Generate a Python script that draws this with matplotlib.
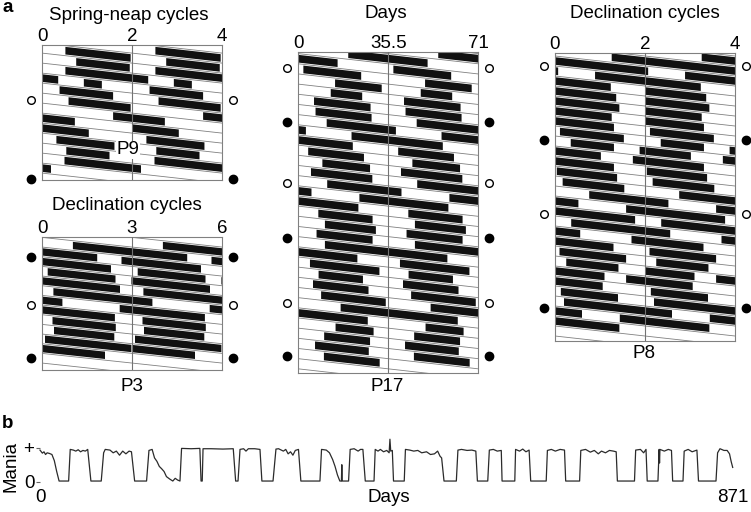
import numpy as np
import matplotlib
matplotlib.use("Agg")
import matplotlib.pyplot as plt
from matplotlib.patches import Polygon

plt.rcParams["font.family"] = ["Liberation Sans", "DejaVu Sans"]

# --- panel a: active (manic) intervals, in cycle/day units along the record ---
p9_intervals = [(0.52, 1.97), (2.76, 3.95), (4.52, 6.36), (6.93, 7.33), (8.39, 9.58),
                (10.59, 11.97), (13.58, 14.73), (16.0, 17.04), (18.32, 19.61),
                (20.54, 21.5), (22.5, 24.2)]
p3_intervals = [(1.03, 4.84), (5.65, 8.3), (9.19, 11.45), (11.98, 14.6), (15.38, 18.68),
                (20.59, 23.43), (24.35, 26.46), (27.4, 29.41), (30.1, 32.98), (33.03, 35.1)]
p17_intervals = [(19.7, 51.0), (73.0, 95.8), (121.0, 139.4), (154.8, 167.2), (183.7, 206.0),
                 (219.8, 241.9), (259.7, 287.0), (305.0, 341.0), (358.9, 380.9),
                 (400.0, 418.8), (431.0, 455.2), (472.9, 502.2), (521.1, 556.2),
                 (575.9, 597.3), (614.0, 634.1), (646.2, 668.3), (685.0, 733.3),
                 (750.1, 777.5), (789.0, 806.5), (822.3, 844.2), (861.0, 886.5),
                 (904.2, 950.4), (973.2, 988.2), (1004.2, 1022.3), (1036.1, 1057.3),
                 (1075.1, 1097.1)]
p8_intervals = [(1.26, 4.07), (4.89, 7.24), (8.0, 9.36), (10.0, 11.43), (12.0, 13.26),
                (14.0, 15.31), (16.11, 17.53), (18.35, 19.31), (19.88, 21.02),
                (21.73, 23.31), (24.04, 25.38), (26.17, 27.54), (28.76, 30.52),
                (31.58, 33.78), (34.36, 36.56), (37.7, 39.3), (40.1, 41.58),
                (42.25, 43.41), (44.0, 45.1), (45.58, 47.06), (48.13, 49.4),
                (50.2, 52.6), (53.44, 55.43)]

# open / filled circle markers (time along record)
p9_open, p9_filled = [10.4], [26.2]
p3_open, p3_filled = [19.5], [4.5, 36.0]
p17_open, p17_filled = [69, 468, 887], [255, 660, 1075]
p8_open, p8_filled = [3.06, 32.6], [17.7, 51.4]

p9_ticks = ["0", "2", "4"]
p3_ticks = ["0", "3", "6"]
p17_ticks = ["0", "35.5", "71"]
p8_ticks = ["0", "2", "4"]

# --- panel b: mania rating over days ---
mania_day = [0, 3, 5, 7, 9, 12, 15, 18, 21, 24, 36, 38, 42, 45, 48, 51, 54, 57, 60, 62, 64,
             77, 80, 82, 88, 92, 96, 100, 104, 108, 112, 115, 119, 134, 137, 141, 144, 147,
             150, 153, 156, 159, 163, 167, 170, 173, 176, 178, 190, 201, 202.5, 204, 205,
             215, 230, 243, 246, 249, 251.5, 256, 259, 262, 270, 276.6, 279, 293, 296.7,
             300, 306, 309, 312, 315, 318, 321, 325, 328, 352, 354, 360, 364, 368, 371, 374,
             377, 379, 379.5, 380, 388, 390, 395, 400, 403, 406, 409, 420, 421.5, 425, 428,
             432, 436, 439, 440, 441, 443, 444.5, 458, 459.5, 465, 470, 475, 480, 486, 491,
             496, 500, 503, 505, 508, 523.5, 525.5, 530, 537, 543, 548, 550, 563, 565, 570,
             575, 580, 581, 597, 598, 603, 607, 611, 615, 617, 636.5, 638, 643, 648, 654,
             659.5, 661, 678.5, 680, 686, 692, 697, 702, 706, 711, 716, 721, 724.5, 726,
             747.5, 749, 755, 759, 762, 763.5, 777, 778.5, 779, 779.5, 785, 790, 794, 795.5,
             808.5, 810, 815, 820, 826, 828, 850, 852, 855, 860, 864, 867, 869, 871]
mania_level = [0.93, 0.84, 0.88, 0.8, 0.85, 0.83, 0.8, 0.62, 0.3, 0.02, 0.02, 0.95, 0.93,
               0.9, 0.94, 0.88, 0.92, 0.9, 0.95, 0.5, 0.02, 0.02, 0.85, 0.95, 0.93, 0.85,
               0.9, 0.78, 0.9, 0.82, 0.9, 0.88, 0.02, 0.02, 0.92, 0.95, 0.7, 0.6, 0.45,
               0.38, 0.3, 0.15, 0.08, 0.02, 0.1, 0.05, 0.02, 0.98, 0.97, 0.98, 0.02, 0.02,
               0.97, 0.97, 0.96, 0.97, 0.02, 0.02, 0.95, 0.97, 0.9, 0.97, 0.97, 0.95, 0.02,
               0.02, 0.96, 0.97, 0.9, 0.95, 0.82, 0.88, 0.78, 0.92, 0.95, 0.02, 0.02, 0.95,
               0.93, 0.85, 0.65, 0.45, 0.2, 0.02, 0.02, 0.5, 0.02, 0.02, 0.95, 0.97, 0.9,
               0.95, 0.95, 0.02, 0.02, 0.95, 0.9, 0.95, 0.88, 0.92, 0.85, 1.25, 0.9, 0.92,
               0.02, 0.02, 0.95, 0.93, 0.9, 0.92, 0.85, 0.88, 0.8, 0.82, 0.9, 0.75, 0.7,
               0.02, 0.02, 0.93, 0.95, 0.92, 0.93, 0.9, 0.02, 0.02, 0.93, 0.95, 0.9, 0.92,
               0.02, 0.02, 0.95, 0.9, 0.96, 0.88, 0.93, 0.02, 0.02, 0.92, 0.95, 0.9, 0.95,
               0.93, 0.02, 0.02, 0.92, 0.95, 0.87, 0.92, 0.82, 0.9, 0.85, 0.92, 0.9, 0.88,
               0.02, 0.02, 0.93, 0.95, 0.85, 0.95, 0.02, 0.02, 0.95, 0.55, 0.95, 0.9, 0.95,
               0.92, 0.02, 0.02, 0.9, 0.95, 0.88, 0.93, 0.02, 0.02, 0.85, 0.97, 0.92, 0.92,
               0.82, 0.6, 0.42]

W, H = 751, 512
fig = plt.figure(figsize=(W / 100, H / 100), dpi=100)
FS = 13.5


def box_axes(x0, y0, x1, y1):
    return fig.add_axes([x0 / W, 1 - y1 / H, (x1 - x0) / W, (y1 - y0) / H])


def ftext(px, py, s, **kw):
    fig.text(px / W, 1 - py / H, s, ha="center", va="center", fontsize=FS, **kw)


def actogram(ax, intervals, P, vlim, ticks, opens, fills, bar_h=0.76):
    # each guide line k runs from T = kP to T = (k+2)P and drops one row per half width
    kmin = int(np.floor(vlim[0])) - 3
    kmax = int(np.ceil(vlim[1])) + 1
    xs = np.array([0, 2 * P])
    for k in range(kmin, kmax + 1):
        ax.plot(xs, k + xs / P + 0.5, color="0.5", lw=0.6, zorder=1)
        for a, b in intervals:
            x0 = max(a - k * P, 0)
            x1 = min(b - k * P, 2 * P)
            if x1 <= x0:
                continue
            y0 = k + x0 / P
            y1 = k + x1 / P
            poly = [(x0, y0 - bar_h / 2), (x1, y1 - bar_h / 2),
                    (x1, y1 + bar_h / 2), (x0, y0 + bar_h / 2)]
            ax.add_patch(Polygon(poly, closed=True, fc="#111111", ec="none", zorder=2))
    ax.axvline(P, color="0.45", lw=0.8, zorder=3)
    ax.set_xlim(0, 2 * P)
    ax.set_ylim(vlim[1], vlim[0])
    ax.set_yticks([])
    ax.xaxis.tick_top()
    ax.set_xticks([0, P, 2 * P], ticks, fontsize=FS)
    ax.tick_params(axis="x", length=0, pad=0)
    for sp in ax.spines.values():
        sp.set_color("0.5")
        sp.set_linewidth(0.8)
    tr = ax.get_yaxis_transform()
    off = 11 / 180
    for side in (-off, 1 + off):
        ax.plot([side] * len(opens), np.array(opens) / P, "o", ms=5.5, mfc="white",
                mec="black", mew=1.0, transform=tr, clip_on=False)
        ax.plot([side] * len(fills), np.array(fills) / P, "o", ms=6, mfc="black",
                mec="black", transform=tr, clip_on=False)


ax9 = box_axes(42, 45.3, 222, 180.3)
actogram(ax9, p9_intervals, 2, (-0.28, 13.22), p9_ticks, p9_open, p9_filled)
ax3 = box_axes(42, 237, 222, 370.3)
actogram(ax3, p3_intervals, 3, (-0.54, 13.25), p3_ticks, p3_open, p3_filled)
ax17 = box_axes(298.3, 52, 478.3, 372.5)
actogram(ax17, p17_intervals, 35.5, (0.34, 31.86), p17_ticks, p17_open, p17_filled)
ax8 = box_axes(555, 53, 735, 340.7)
actogram(ax8, p8_intervals, 2, (0.2, 28.97), p8_ticks, p8_open, p8_filled)

ftext(129, 15, "Spring-neap cycles")
ftext(127, 205, "Declination cycles")
ftext(386, 13, "Days")
ftext(645, 13, "Declination cycles")
ftext(128, 150, "P9", bbox=dict(fc="white", ec="none", pad=0.5))
ftext(131.7, 386.7, "P3")
ftext(386.7, 386.7, "P17")
ftext(644, 354, "P8")
ftext(8, 8, "a", fontweight="bold")
ftext(8, 424, "b", fontweight="bold")

# --- panel b ---
axb = box_axes(40, 437, 732.7, 486)
axb.plot(mania_day, mania_level, color="#2b2b2b", lw=0.9, clip_on=False)
axb.set_xlim(0, 871)
axb.set_ylim(-0.126, 1.315)
for sp in axb.spines.values():
    sp.set_visible(False)
axb.set_yticks([0, 1], ["0", "+"], fontsize=FS)
axb.tick_params(axis="y", length=3, width=0.8, color="0.4", pad=1)
axb.set_xticks([0, 871], ["0", "871"], fontsize=FS)
axb.tick_params(axis="x", length=0, pad=2)
ftext(389, 498, "Days")
ftext(11, 466, "Mania", rotation=90)

fig.savefig("out.png", dpi=100)
